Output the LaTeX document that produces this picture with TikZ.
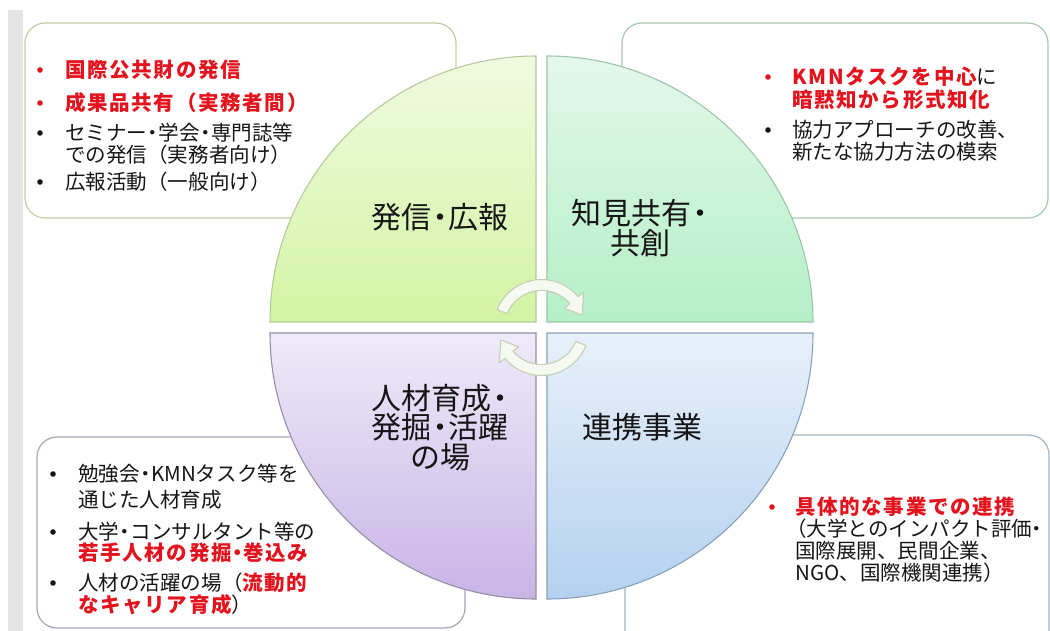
\documentclass[tikz,border=0pt]{standalone}
\usepackage{fontspec}
\setmainfont{Noto Sans CJK JP}
\definecolor{kred}{RGB}{228,18,28}
\definecolor{ktext}{RGB}{22,22,22}
\definecolor{bargrey}{RGB}{228,228,228}
\definecolor{bTL}{RGB}{200,204,166}
\definecolor{bTR}{RGB}{168,200,178}
\definecolor{bBL}{RGB}{170,163,185}
\definecolor{bBR}{RGB}{163,179,195}
\definecolor{tlT}{RGB}{240,250,224}
\definecolor{tlB}{RGB}{210,244,163}
\definecolor{tlD}{RGB}{181,201,154}
\definecolor{trT}{RGB}{228,248,235}
\definecolor{trB}{RGB}{180,239,198}
\definecolor{trD}{RGB}{157,196,168}
\definecolor{blT}{RGB}{238,234,249}
\definecolor{blB}{RGB}{200,180,230}
\definecolor{blD}{RGB}{150,140,165}
\definecolor{brT}{RGB}{232,240,250}
\definecolor{brB}{RGB}{179,209,239}
\definecolor{brD}{RGB}{135,160,185}
\definecolor{arrF}{RGB}{246,249,239}
\definecolor{arrD}{RGB}{196,206,180}
\newcommand\rb[1]{{\color{kred}\bfseries\addfontfeature{LetterSpace=8}#1}}
\newcommand\nd{\makebox[0.55em][c]{・}}
\newcommand\ndn{\makebox[0.42em][c]{・}}
\tikzset{
  btext/.style={anchor=base west, inner sep=0pt, text=ktext, font=\fontsize{15.4pt}{18pt}\selectfont},
  qtext/.style={anchor=base, inner sep=0pt, text=ktext, font=\fontsize{22.5pt}{27pt}\selectfont},
  bulk/.style={circle, fill=ktext, inner sep=0pt, minimum size=4.2pt},
  bulr/.style={bulk, fill=kred},
  boxa/.style={line width=0.9pt, rounded corners=15pt, fill=white},
  quad/.style={line width=0.8pt},
  arr/.style={fill=arrF, draw=arrD, line width=0.8pt, line join=round}
}
\begin{document}
\begin{tikzpicture}[x=0.75pt,y=-0.75pt]
\useasboundingbox (0,0) rectangle (1050,631);
\clip (0,0) rectangle (1050,631);
\fill[white] (0,0) rectangle (1050,631);
\fill[bargrey] (8,10) rectangle (23,631);
% text boxes
\draw[boxa, draw=bTL] (25,23) rectangle (456,218);
\draw[boxa, draw=bTR] (622,23) rectangle (1048,218);
\draw[boxa, draw=bBL] (37,437) rectangle (465,628);
\draw[boxa, draw=bBR] (625,435) rectangle (1049,660);
% quadrants
\begin{scope}[shift={(536,322)}, y=0.75pt]
  \shade[quad, top color=tlT, bottom color=tlB, draw=tlD] (0,0) -- (0,266) arc[start angle=90, end angle=180, radius=266] -- cycle;
\end{scope}
\begin{scope}[shift={(547,322)}, y=0.75pt]
  \shade[quad, top color=trT, bottom color=trB, draw=trD] (0,0) -- (266,0) arc[start angle=0, end angle=90, radius=266] -- cycle;
\end{scope}
\begin{scope}[shift={(536,333)}, y=0.75pt]
  \shade[quad, top color=blT, bottom color=blB, draw=blD] (0,0) -- (-266,0) arc[start angle=180, end angle=270, radius=266] -- cycle;
\end{scope}
\begin{scope}[shift={(547,333)}, y=0.75pt]
  \shade[quad, top color=brT, bottom color=brB, draw=brD] (0,0) -- (0,-266) arc[start angle=270, end angle=360, radius=266] -- cycle;
\end{scope}
% circular arrows
\begin{scope}[shift={(541.5,327.5)}, y=0.75pt]
  \path[arr] (158:48) arc[start angle=158, end angle=40, radius=48] -- (40:55) -- (17:42.5) -- (40:30) -- (40:37) arc[start angle=40, end angle=158, radius=37] -- cycle;
  \path[arr] (338:48) arc[start angle=338, end angle=220, radius=48] -- (220:55) -- (197:42.5) -- (220:30) -- (220:37) arc[start angle=220, end angle=338, radius=37] -- cycle;
\end{scope}
% quadrant labels
\node[qtext] (qa) at (440,228.4) {発信\nd 広報};
\node[qtext] (qb1) at (640,224.4) {知見共有\nd};
\node[qtext] (qb2) at (640,254.4) {共創};
\node[qtext] (qc1) at (440,409.4) {人材育成\nd};
\node[qtext] (qc2) at (440,438.4) {発掘\nd 活躍};
\node[qtext] (qc3) at (440,468.4) {の場};
\node[qtext] (qd) at (642,438.4) {連携事業};
% top-left box
\node[bulr] (ba1) at (40,70) {};
\node[bulr] (ba2) at (40,103) {};
\node[bulk] (ba3) at (40,133) {};
\node[bulk] (ba4) at (40,182) {};
\node[btext] (ta1) at (65,77.8) {\rb{国際公共財の発信}};
\node[btext] (ta2) at (65,110.8) {\rb{成果品共有（実務者間）}};
\node[btext] (ta3) at (65,140.8) {セミナー\nd 学会\nd 専門誌等};
\node[btext] (ta4) at (65,162.8) {での発信（実務者向け）};
\node[btext] (ta5) at (65,189.8) {広報活動（一般向け）};
% top-right box
\node[bulr] (bb1) at (768,77) {};
\node[bulk] (bb2) at (768,130) {};
\node[btext] (tb1) at (792,84.8) {\rb{KMNタスクを中心}に};
\node[btext] (tb2) at (792,107.8) {\rb{暗黙知から形式知化}};
\node[btext] (tb3) at (792,137.8) {協力アプローチの改善、};
\node[btext] (tb4) at (792,159.8) {新たな協力方法の模索};
% bottom-left box
\node[bulk] (bc1) at (53,474) {};
\node[bulk] (bc2) at (53,532) {};
\node[bulk] (bc3) at (53,583) {};
\node[btext] (tc1) at (78,481.8) {勉強会\nd KMNタスク等を};
\node[btext] (tc2) at (78,507.8) {通じた人材育成};
\node[btext] (tc3) at (78,539.8) {大学\nd コンサルタント等の};
\node[btext] (tc4) at (78,560.8) {\rb{若手人材の発掘\nd 巻込み}};
\node[btext] (tc5) at (78,590.8) {人材の活躍の場（\rb{流動的}};
\node[btext] (tc6) at (78,612.8) {\rb{なキャリア育成}）};
% bottom-right box
\node[bulr] (bd1) at (772,507) {};
\node[btext] (td1) at (795,514.8) {\rb{具体的な事業での連携}};
\node[btext] (td2) at (786,536.8) {（大学とのインパクト評価\ndn};
\node[btext] (td3) at (795,558.8) {国際展開、民間企業、};
\node[btext] (td4) at (795,580.8) {NGO、国際機関連携）};
\end{tikzpicture}
\end{document}
